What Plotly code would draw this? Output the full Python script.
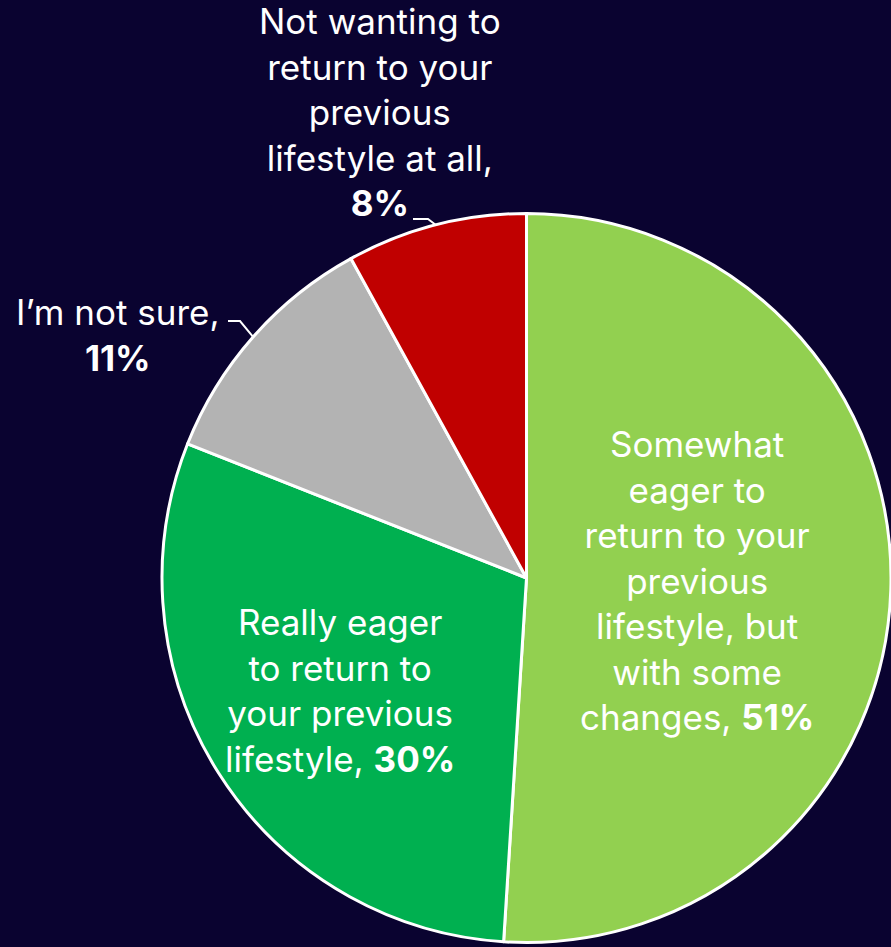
import math
import plotly.graph_objects as go

# Survey answers, clockwise from 12 o'clock
categories = [
    "Somewhat eager to return to your previous lifestyle, but with some changes",
    "Really eager to return to your previous lifestyle",
    "I’m not sure",
    "Not wanting to return to your previous lifestyle at all",
]
shares = [51, 30, 11, 8]

# Wrapped versions of the category names for the on-chart labels
wrapped_names = [
    "Somewhat<br>eager to<br>return to your<br>previous<br>lifestyle, but<br>with some<br>changes,",
    "Really eager<br>to return to<br>your previous<br>lifestyle,",
    "I’m not sure,",
    "Not wanting to<br>return to your<br>previous<br>lifestyle at all,",
]
slice_colors = ["#92D050", "#00B050", "#B3B3B3", "#C00000"]

W, H = 891, 947
BG = "#0A0330"
FONT = "Inter"
FS = 35

# Pie placement (pixels) -> domain
cx, cy, r = 526.5, 578.0, 364.5
dom_x = [(cx - r) / W, 1.0]
dom_y = [(H - (cy + r)) / H, (H - (cy - r)) / H]

fig = go.Figure(
    go.Pie(
        labels=categories,
        values=shares,
        sort=False,
        direction="clockwise",
        rotation=0,
        marker=dict(colors=slice_colors, line=dict(color="white", width=3)),
        textinfo="none",
        hoverinfo="label+percent",
        showlegend=False,
        domain=dict(x=dom_x, y=dom_y),
    )
)


def px(x):
    return x / W


def py(y):
    return 1 - y / H


# Label placement (pixel centers) and whether value sits on its own line
label_pos = [(697, 580), (340, 690), (118, 335), (380, 112)]
value_on_new_line = [False, False, True, True]

for name, val, (lx, ly), newline in zip(wrapped_names, shares, label_pos, value_on_new_line):
    sep = "<br>" if newline else " "
    fig.add_annotation(
        x=px(lx), y=py(ly), xref="paper", yref="paper",
        text=f"{name}{sep}<b>{val}%</b>",
        showarrow=False, xanchor="center", yanchor="middle",
        align="center",
        font=dict(family=FONT, size=FS, color="white"),
    )

# Leader lines from the outside labels to the middle of their slice edge
total = sum(shares)
cum = 0
mid_angles = []
for v in shares:
    mid_angles.append((cum + v / 2) / total * 2 * math.pi)
    cum += v

leader_starts = {2: (228, 321, 240), 3: (413, 219, 428)}
for idx, (x0, y0, x1) in leader_starts.items():
    a = mid_angles[idx]
    ex = cx + r * math.sin(a)
    ey = cy - r * math.cos(a)
    fig.add_shape(
        type="path", xref="paper", yref="paper",
        path=f"M {px(x0)} {py(y0)} L {px(x1)} {py(y0)} L {px(ex)} {py(ey)}",
        line=dict(color="white", width=2),
    )

fig.update_layout(
    width=W, height=H,
    margin=dict(l=0, r=0, t=0, b=0),
    paper_bgcolor=BG,
    plot_bgcolor=BG,
    font=dict(family=FONT, color="white"),
)

fig.write_html("out.html")
